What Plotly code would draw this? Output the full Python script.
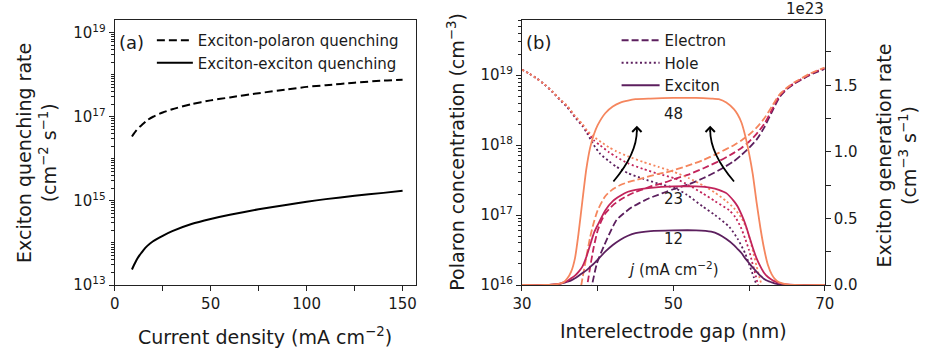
import plotly.graph_objects as go

# ---------------- Panel (a) data ----------------
j_a = [9, 10, 11, 12, 13, 14, 15, 17, 20, 25, 30, 40, 50, 60, 75, 90, 100, 110, 125, 140, 150]
exciton_polaron_q = [3.39e16, 3.98e16, 4.57e16, 5.13e16, 5.75e16, 6.31e16, 6.92e16, 8.32e16, 1.0e17,
                     1.26e17, 1.51e17, 2.0e17, 2.45e17, 2.88e17, 3.63e17, 4.47e17, 5.13e17, 5.62e17,
                     6.46e17, 7.24e17, 7.59e17]
exciton_exciton_q = [2.34e13, 2.95e13, 3.63e13, 4.37e13, 5.13e13, 5.89e13, 6.76e13, 8.51e13, 1.10e14,
                     1.48e14, 1.91e14, 2.82e14, 3.72e14, 4.68e14, 6.31e14, 8.13e14, 9.55e14, 1.10e15,
                     1.32e15, 1.55e15, 1.74e15]

# ---------------- Panel (b) data ----------------
current_densities = ["12", "23", "48"]

x_e12 = [39.1, 39.3, 39.9, 40.8, 41.5, 42.5, 43.5, 44.5, 45.5, 46.8, 48, 49, 50, 52, 54, 56, 58, 59, 60,
         61, 62, 63, 64, 65, 66, 67, 68, 69, 70]
electron_12 = [7.9e15, 1.05e16, 2.04e16, 3.55e16, 5.25e16, 8.5e16, 1.07e17, 1.29e17, 1.48e17, 1.74e17,
               1.95e17, 2.14e17, 2.34e17, 2.75e17, 3.39e17, 4.37e17, 5.89e17, 7.24e17, 9.12e17,
               1.2e18, 1.78e18, 2.95e18, 4.79e18, 6.31e18, 7.59e18, 8.71e18, 1.0e19, 1.12e19, 1.23e19]

x_e23 = [38.4, 38.7, 39, 39.5, 40, 40.5, 41, 42, 43, 44, 45, 46, 47, 48, 49, 50, 52, 54, 56, 58, 59, 60,
         61, 62, 63, 64, 65, 66, 67, 68, 69, 70]
electron_23 = [7.9e15, 1.12e16, 1.78e16, 3.55e16, 6.0e16, 8.3e16, 1.05e17, 1.38e17, 1.66e17, 1.91e17,
               2.14e17, 2.34e17, 2.57e17, 2.75e17, 2.95e17, 3.24e17, 3.8e17, 4.68e17, 5.89e17, 7.76e17,
               9.12e17, 1.12e18, 1.45e18, 2.0e18, 3.16e18, 5.01e18, 6.46e18, 7.76e18, 8.91e18, 1.02e19,
               1.15e19, 1.26e19]

x_e48 = [37.6, 38, 38.5, 39, 39.5, 40, 41, 42, 43, 44, 45, 46, 47, 48, 49, 50, 52, 54, 56, 58, 59, 60,
         61, 62, 63, 64, 65, 66, 67, 68, 69, 70]
electron_48 = [7.1e15, 1.26e16, 2.5e16, 4.8e16, 7.9e16, 1.17e17, 1.86e17, 2.34e17, 2.69e17, 2.95e17,
               3.16e17, 3.39e17, 3.63e17, 3.89e17, 4.07e17, 4.37e17, 5.13e17, 6.17e17, 7.76e17, 1.0e18,
               1.17e18, 1.41e18, 1.78e18, 2.4e18, 3.55e18, 5.25e18, 6.61e18, 7.94e18, 9.12e18, 1.05e19,
               1.17e19, 1.29e19]

x_h12 = [30, 31, 32, 33, 34, 35, 36, 37, 38, 38.6, 39.5, 40.3, 41.5, 42.5, 44, 46, 48, 50.3, 51.8, 53.9,
         55.5, 57.4, 58.5, 59.5, 60, 60.6, 61.0, 61.4]
hole_12 = [1.2e19, 1.05e19, 8.9e18, 7.3e18, 5.8e18, 4.47e18, 3.47e18, 2.51e18, 1.86e18, 1.48e18, 1.0e18,
           7.59e17, 5.89e17, 4.9e17, 3.98e17, 3.31e17, 2.82e17, 2.4e17, 1.95e17, 1.32e17, 1.0e17,
           6.76e16, 4.57e16, 2.82e16, 2.0e16, 1.32e16, 1.0e16, 7.1e15]

x_h23 = [30, 31, 32, 33, 34, 35, 36, 37, 38, 38.6, 39.5, 40.3, 41.5, 42.5, 44, 46, 48, 50.3, 52, 53.9,
         55.5, 57.4, 58.2, 58.9, 59.5, 60, 60.4, 60.8, 61.2, 61.6]
hole_23 = [1.2e19, 1.05e19, 8.9e18, 7.35e18, 5.85e18, 4.52e18, 3.55e18, 2.57e18, 1.95e18, 1.58e18,
           1.17e18, 1.0e18, 7.94e17, 6.76e17, 5.5e17, 4.57e17, 3.89e17, 3.31e17, 2.69e17, 2.04e17,
           1.58e17, 1.17e17, 9.3e16, 6.76e16, 4.57e16, 3.16e16, 2.14e16, 1.48e16, 1.0e16, 7.1e15]

x_h48 = [30, 31, 32, 33, 34, 35, 36, 37, 38, 38.6, 39.5, 40.5, 41.5, 42.5, 44, 46, 48, 50, 52, 54, 55.5,
         57, 58, 59, 59.7, 60.2, 60.6, 61.0, 61.4, 61.8, 62.2]
hole_48 = [1.2e19, 1.05e19, 8.9e18, 7.4e18, 5.9e18, 4.57e18, 3.63e18, 2.63e18, 2.0e18, 1.62e18, 1.32e18,
           1.1e18, 9.33e17, 8.13e17, 6.92e17, 5.75e17, 4.9e17, 4.17e17, 3.39e17, 2.63e17, 2.09e17,
           1.58e17, 1.26e17, 9.12e16, 6.31e16, 4.17e16, 2.82e16, 1.86e16, 1.26e16, 8.9e15, 6.3e15]

# exciton generation rate, in units of 1e23 cm^-3 s^-1
x_exc = [30, 33, 34, 35, 35.5, 36, 36.5, 37, 37.5, 38, 38.5, 39, 39.5, 40, 41, 42, 43, 44, 45, 47, 50,
         53, 55, 56, 57, 58, 58.5, 59, 59.5, 60, 60.5, 61, 61.5, 62, 62.5, 63, 63.5, 64, 65, 66, 70]
exciton_12 = [0, 0, 0.002, 0.008, 0.015, 0.025, 0.035, 0.05, 0.07, 0.09, 0.11, 0.135, 0.16, 0.19, 0.25,
              0.30, 0.34, 0.37, 0.39, 0.405, 0.41, 0.41, 0.40, 0.38, 0.345, 0.30, 0.27, 0.24, 0.20,
              0.165, 0.13, 0.10, 0.07, 0.045, 0.03, 0.02, 0.01, 0.005, 0.001, 0, 0]
exciton_23 = [0, 0, 0.002, 0.01, 0.02, 0.03, 0.05, 0.07, 0.10, 0.14, 0.21, 0.30, 0.39, 0.45, 0.56, 0.63,
              0.67, 0.70, 0.715, 0.73, 0.74, 0.74, 0.73, 0.715, 0.69, 0.63, 0.59, 0.53, 0.46, 0.37,
              0.28, 0.20, 0.14, 0.09, 0.06, 0.04, 0.025, 0.015, 0.004, 0, 0]
exciton_48 = [0, 0, 0.003, 0.01, 0.02, 0.05, 0.10, 0.20, 0.40, 0.64, 0.87, 1.03, 1.13, 1.20, 1.29, 1.34,
              1.37, 1.385, 1.395, 1.40, 1.405, 1.405, 1.40, 1.395, 1.37, 1.32, 1.28, 1.22, 1.12, 0.99,
              0.83, 0.62, 0.43, 0.27, 0.15, 0.08, 0.04, 0.02, 0.005, 0, 0]

colors = {"12": "#5c1f5e", "23": "#c2245b", "48": "#f5865e"}

FONT = "DejaVu Sans"
TXT = "#1a1a1a"
AX = "#222222"
TITLE_SIZE = 19

fig = go.Figure()

# ---- panel (a)
fig.add_trace(go.Scatter(x=j_a, y=exciton_polaron_q, mode="lines", name="Exciton-polaron quenching",
                         line=dict(color="black", width=2, dash="8px,4px"), xaxis="x", yaxis="y",
                         legend="legend", line_shape="spline", line_smoothing=0.6))
fig.add_trace(go.Scatter(x=j_a, y=exciton_exciton_q, mode="lines", name="Exciton-exciton quenching",
                         line=dict(color="black", width=2), xaxis="x", yaxis="y",
                         legend="legend", line_shape="spline", line_smoothing=0.6))

# ---- panel (b)
series = {
    "12": (x_e12, electron_12, x_h12, hole_12, exciton_12),
    "23": (x_e23, electron_23, x_h23, hole_23, exciton_23),
    "48": (x_e48, electron_48, x_h48, hole_48, exciton_48),
}
for j in current_densities:
    xe, ye, xh, yh, yx = series[j]
    c = colors[j]
    fig.add_trace(go.Scatter(x=xe, y=ye, mode="lines", line=dict(color=c, width=1.8, dash="7px,3px"),
                             xaxis="x2", yaxis="y2", showlegend=False, line_shape="spline",
                             line_smoothing=0.6))
    fig.add_trace(go.Scatter(x=xh, y=yh, mode="lines", line=dict(color=c, width=1.8, dash="2px,2.6px"),
                             xaxis="x2", yaxis="y2", showlegend=False, line_shape="spline",
                             line_smoothing=0.6))
for j in current_densities:
    c = colors[j]
    fig.add_trace(go.Scatter(x=x_exc, y=series[j][4], mode="lines", line=dict(color=c, width=1.8),
                             xaxis="x2", yaxis="y3", showlegend=False, line_shape="spline",
                             line_smoothing=0.6))

# legend entries for panel (b)
for name, dash in [("Electron", "7px,3px"), ("Hole", "2px,2.6px"), ("Exciton", "solid")]:
    fig.add_trace(go.Scatter(x=[None], y=[None], mode="lines", name=name,
                             line=dict(color=colors["12"], width=1.8, dash=dash),
                             xaxis="x2", yaxis="y2", legend="legend2"))

W, H = 925, 351
T, B = 20, 66
PH = H - T - B


def px_x(p):
    return p / W


def px_y(p):
    return 1 - (p - T) / PH


common_axis = dict(showline=True, linecolor=AX, linewidth=1, mirror=True, ticks="outside",
                   ticklen=5, tickwidth=1, tickcolor=AX, showgrid=False, zeroline=False,
                   tickfont=dict(family=FONT, size=15, color=TXT))


def log_minor(lo, hi):
    vals = []
    for e in range(lo, hi + 1):
        for m in range(1, 10):
            vals.append(m * 10.0 ** e)
    return vals


fig.update_layout(
    width=W, height=H, margin=dict(l=0, r=0, t=T, b=B),
    paper_bgcolor="white", plot_bgcolor="white",
    font=dict(family=FONT, size=15, color=TXT),
    xaxis=dict(domain=[px_x(107), px_x(415)], range=[0, 157], anchor="y",
               tickmode="array", tickvals=[0, 50, 100, 150],
               minor=dict(tickmode="array", tickvals=[25, 75, 125], ticklen=5, ticks="outside",
                          tickcolor=AX),
               **common_axis),
    yaxis=dict(domain=[0, 1], type="log", range=[13, 19.3], anchor="x",
               tickmode="array", tickvals=[1e13, 1e15, 1e17, 1e19],
               ticktext=["10<sup>13</sup>", "10<sup>15</sup>", "10<sup>17</sup>", "10<sup>19</sup>"],
               minor=dict(tickmode="array", tickvals=log_minor(13, 19), ticklen=2.5, ticks="outside",
                          tickcolor=AX),
               **common_axis),
    xaxis2=dict(domain=[px_x(523.3), px_x(832.7)], range=[30, 70], anchor="y2",
                tickmode="array", tickvals=[30, 50, 70],
                minor=dict(tickmode="array", tickvals=[40, 60], ticklen=5, ticks="outside",
                           tickcolor=AX),
                **common_axis),
    yaxis2=dict(domain=[0, 1], type="log", range=[16, 19.79], anchor="x2",
                tickmode="array", tickvals=[1e16, 1e17, 1e18, 1e19],
                ticktext=["10<sup>16</sup>", "10<sup>17</sup>", "10<sup>18</sup>", "10<sup>19</sup>"],
                minor=dict(tickmode="array", tickvals=log_minor(16, 19), ticklen=2.5, ticks="outside",
                           tickcolor=AX),
                **common_axis),
    yaxis3=dict(overlaying="y2", side="right", anchor="x2", range=[0, 1.99],
                tickmode="array", tickvals=[0, 0.5, 1.0, 1.5], ticktext=["0.0", "0.5", "1.0", "1.5"],
                minor=dict(tickmode="array", tickvals=[0.25, 0.75, 1.25, 1.75], ticklen=5,
                           ticks="outside", tickcolor=AX),
                showline=True, linecolor=AX, linewidth=1, ticks="outside", ticklen=5,
                tickwidth=1, tickcolor=AX, showgrid=False, zeroline=False,
                tickfont=dict(family=FONT, size=15, color=TXT)),
    legend=dict(x=px_x(145), y=px_y(24), xanchor="left", yanchor="top", bgcolor="rgba(0,0,0,0)",
                font=dict(family=FONT, size=15, color=TXT), tracegroupgap=0, itemwidth=36),
    legend2=dict(x=px_x(620), y=px_y(24), xanchor="left", yanchor="top", bgcolor="rgba(0,0,0,0)",
                 font=dict(family=FONT, size=15, color=TXT), tracegroupgap=0, itemwidth=38),
)


def note(text, xp, yp, size=TITLE_SIZE, angle=0, xanchor="center"):
    return dict(text=text, x=px_x(xp), y=px_y(yp), xref="paper", yref="paper", xanchor=xanchor,
                yanchor="middle", textangle=angle, showarrow=False, font=dict(size=size))


ann = []
ann.append(note("(a)", 109, 42, size=18, xanchor="left"))
ann.append(note("(b)", 525, 42, size=18, xanchor="left"))
for j, yv in [("48", 1.286), ("23", 0.647), ("12", 0.346)]:
    ann.append(dict(text=j, x=50, y=yv, xref="x2", yref="y3", xanchor="center", yanchor="middle",
                    showarrow=False, font=dict(size=15)))
ann.append(dict(text="<i>j</i> (mA cm<sup>−2</sup>)", x=50, y=0.12, xref="x2", yref="y3",
                xanchor="center", yanchor="middle", showarrow=False, font=dict(size=15)))
ann.append(note("1e23", 834, 9, size=15, xanchor="right"))
# axis titles
ann.append(note("Exciton quenching rate<br>(cm<sup>−2</sup> s<sup>−1</sup>)", 27, 152.5, angle=-90))
ann.append(note("Current density (mA cm<sup>−2</sup>)", 261, 336))
ann.append(note("Polaron concentration (cm<sup>−3</sup>)", 455, 152.5, angle=-90))
ann.append(note("Exciton generation rate<br>(cm<sup>−3</sup> s<sup>−1</sup>)", 906, 155, angle=-90))
ann.append(note("Interelectrode gap (nm)", 678, 331))
# arrow heads
for tipx in (45.18, 54.87):
    ann.append(dict(text="", x=tipx, y=1.195, ax=tipx, ay=1.14, xref="x2", yref="y3", axref="x2",
                    ayref="y3", showarrow=True, arrowhead=4, arrowsize=1.0, arrowwidth=1.8,
                    arrowcolor="black"))
fig.update_layout(annotations=ann)

shapes = [
    dict(type="path", path="M 42.08,0.777 Q 45.18,0.985 45.18,1.16", xref="x2", yref="y3",
         line=dict(color="black", width=1.8)),
    dict(type="path", path="M 58.02,0.777 Q 54.87,0.985 54.87,1.16", xref="x2", yref="y3",
         line=dict(color="black", width=1.8)),
]
fig.update_layout(shapes=shapes)

fig.write_html("out.html")
